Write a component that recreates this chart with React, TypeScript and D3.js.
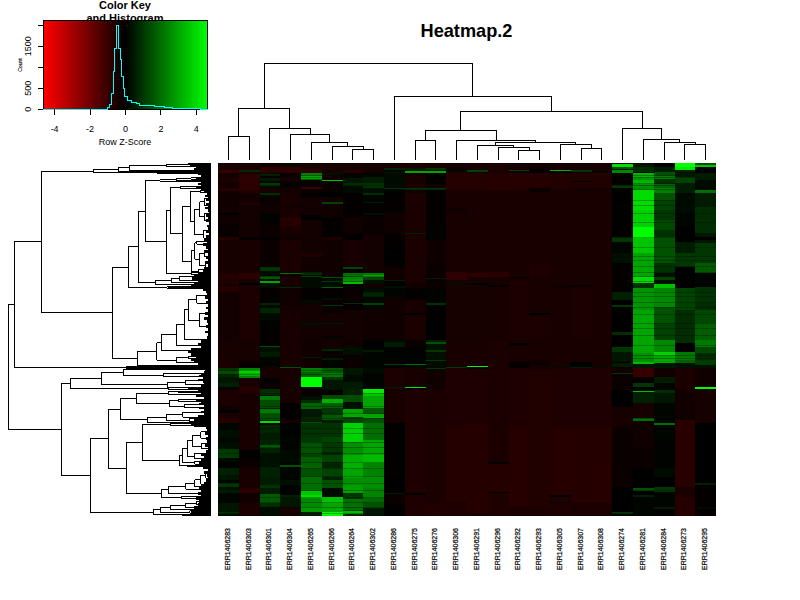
import React from "react";
import * as d3 from "d3";

// ---------- data ----------
const sampleIds = ["ERR1406283","ERR1406303","ERR1406301","ERR1406304","ERR1406265","ERR1406266","ERR1406264","ERR1406302","ERR1406286","ERR1406275","ERR1406276","ERR1406306","ERR1406291","ERR1406296","ERR1406292","ERR1406293","ERR1406305","ERR1406307","ERR1406308","ERR1406274","ERR1406281","ERR1406284","ERR1406273","ERR1406295"];

// Row-position units run from 9 (top row) to 1068 (bottom row). Each band: [first row position, z-score]
const col00 = [[9,-.45],[30,-1],[38,-.3],[52,-.5],[66,-.35],[85,-.7],[92,-.3],[160,0],[165,-.3],[192,-.15],[230,-.7],[240,-.4],[340,-.6],[372,-.4],[378,-.7],[395,-.35],[540,-.4],[600,-.5],[624,1],[634,1.4],[642,.7],[650,.4],[668,.6],[680,-.2],[690,-.5],[735,-.3],[750,0],[760,-.5],[775,-.7],[790,.1],[810,.3],[830,.15],[850,.3],[867,1.05],[895,.2],[905,0],[925,.6],[945,.4],[960,.1],[970,1],[980,.3],[990,.5],[1000,.1],[1030,.4],[1055,.8],[1060,.2]];
const col01 = [[9,-.5],[30,.8],[36,-.5],[42,-.8],[90,-.6],[100,-.35],[130,-.6],[135,-.35],[230,-.1],[240,-.45],[340,-.8],[356,-.4],[370,0],[375,-.5],[540,-.4],[600,-.3],[610,-.1],[624,2.4],[630,3.8],[640,3.2],[648,2.4],[655,-.5],[680,-.7],[700,-.45],[870,-.05],[900,-.2],[920,-.45],[985,-.8],[1000,-.3],[1030,-.5]];
const col02 = [[9,-.3],[22,-.8],[38,-.3],[42,.7],[47,-.1],[55,.5],[62,.1],[70,1],[76,.2],[84,-.4],[100,.8],[106,.2],[112,-.2],[135,-.3],[160,.05],[185,-.2],[230,0],[240,-.2],[320,1],[333,.2],[347,1.6],[356,.2],[364,3],[370,.3],[385,-.1],[430,.7],[436,.2],[445,.7],[460,.2],[480,.05],[500,-.1],[540,-.1],[558,1.5],[562,.3],[575,.5],[590,.1],[620,-.4],[655,.05],[670,-.2],[688,.8],[705,.2],[708,2.2],[720,1.4],[745,.5],[748,2.2],[762,1.4],[780,.6],[783,4],[789,.1],[795,.7],[820,.5],[840,.6],[855,1.6],[865,.6],[880,.3],[920,.6],[950,.5],[975,.9],[985,.5],[1002,1.6],[1030,.8],[1040,.2]];
const col03 = [[9,.2],[15,-.4],[20,-.8],[38,-.2],[50,-.35],[65,.05],[80,-.35],[100,-.45],[138,-.2],[142,-.45],[170,-.7],[200,-.45],[225,-.3],[240,-.5],[338,2],[342,-.3],[350,-.45],[380,.8],[384,-.3],[440,-.45],[540,-.45],[620,1.5],[624,-.45],[730,-.1],[780,-.45],[790,.05],[830,.1],[870,.2],[910,.05],[915,1.5],[922,.1],[960,.3],[975,.05],[1005,.6],[1010,.4],[1040,-.45]];
const col04 = [[9,-.4],[28,-.8],[39,2.3],[48,3],[56,1.6],[60,-.2],[82,-1],[88,-.2],[100,0],[110,-.35],[165,0],[180,-.35],[280,-.6],[290,-.3],[335,.8],[345,.3],[347,1.5],[351,.2],[385,-.1],[420,.2],[430,-.35],[488,.3],[495,-.35],[540,-.3],[590,.5],[595,-.3],[624,2.3],[635,1.8],[652,4.6],[682,.1],[690,-.2],[708,.3],[720,.8],[730,1.8],[748,.4],[770,.6],[785,1.5],[790,.9],[830,1],[845,1.5],[880,1.2],[890,1.7],[910,1.8],[925,1.5],[950,2],[992,3.6],[1005,4],[1015,2.5],[1040,2.8],[1055,.5]];
const col05 = [[9,-.4],[40,.3],[46,-.3],[60,3.5],[64,-.2],[95,0],[110,-.35],[125,1.2],[131,-.3],[170,-.1],[230,-.5],[240,-.3],[350,1.5],[354,.3],[363,1],[367,.2],[380,1.8],[384,-.1],[415,.3],[420,-.2],[435,1],[438,-.2],[460,-.35],[488,.4],[492,-.35],[528,.1],[534,-.35],[540,-.35],[568,.7],[572,-.2],[595,.5],[600,.1],[624,1.6],[640,2.2],[650,1],[660,.4],[690,-.2],[705,1.3],[718,3.2],[730,1.7],[745,1],[765,1.6],[780,.5],[790,.9],[830,1.2],[850,1],[875,.7],[885,1.2],[905,.7],[925,1.2],[950,.6],[960,1.5],[985,.2],[1012,3.5],[1030,3],[1055,4.5]];
const col06 = [[9,-.4],[30,-.7],[38,-.2],[42,.1],[55,.4],[70,.8],[76,.2],[100,-.1],[170,-.3],[220,-.1],[240,-.45],[320,1.2],[328,-.1],[340,2],[352,2.4],[358,2.6],[366,3.4],[372,.1],[385,-.2],[428,.8],[432,-.1],[450,-.35],[540,-.3],[560,.3],[585,-.2],[624,.4],[645,.2],[665,.5],[688,.6],[705,1.4],[725,.3],[747,3],[770,1.2],[790,3.8],[845,2.6],[885,3.2],[925,3],[955,2.6],[975,2.9],[1000,1],[1018,2],[1050,1.2],[1053,3.4],[1060,.8]];
const col07 = [[9,-.4],[38,.1],[50,.5],[70,.9],[85,.3],[100,.8],[105,.1],[125,.5],[130,-.1],[158,.3],[165,-.2],[225,-.35],[340,2.2],[346,3],[352,1.2],[360,.3],[372,-.3],[385,.2],[395,.7],[410,.1],[430,1.2],[434,.1],[450,-.3],[540,0],[570,.5],[575,.1],[624,.2],[640,.1],[688,4.3],[700,3.6],[708,3],[745,1.6],[762,3],[775,1.5],[790,2],[840,3],[885,3.4],[910,2.4],[950,2.6],[985,2.4],[1012,1.9],[1030,1.5],[1045,.4]];
const col08 = [[9,-.4],[24,.7],[29,-.1],[36,.4],[40,.2],[85,1],[88,.1],[100,-.1],[150,.05],[160,-.3],[220,-.1],[270,0],[300,-.05],[320,-.3],[360,.6],[364,-.1],[378,.3],[385,.1],[410,-.3],[540,.2],[545,.5],[560,.05],[612,1],[616,.05],[624,-.5],[680,.4],[684,-.45],[790,-.05],[950,0],[1000,.5],[1003,-.2],[1035,-.05]];
const col09 = [[9,-.5],[24,.5],[34,3],[38,-.3],[45,-.45],[85,1],[89,-.3],[100,-.5],[218,.6],[222,-.5],[370,-.3],[385,-.1],[420,-.45],[460,-.1],[466,-.5],[540,-.2],[565,.05],[612,2],[616,.1],[624,-.45],[680,4],[684,-.2],[690,-.55],[1000,-.1],[1005,-.55]];
const col10 = [[9,-.45],[24,1],[30,.3],[32,3],[39,.1],[50,-.1],[66,.05],[72,-.3],[85,1],[89,.05],[100,-.1],[190,.05],[240,-.25],[310,-.2],[354,.5],[357,-.2],[385,.05],[430,.9],[435,0],[540,.5],[546,1.5],[552,.3],[570,1],[575,.3],[600,1],[604,.2],[624,1],[628,-.3],[690,-.5],[1030,-.6]];
const col11 = [[9,-.4],[25,.1],[32,-.45],[40,-.65],[90,-.45],[145,-.3],[160,-.45],[335,-.8],[360,-.45],[370,.2],[376,-.4],[540,-.45],[620,1],[624,-.55],[800,-.65],[1025,-.4],[1030,-.55]];
const col12 = [[9,-.45],[30,1.2],[36,-.3],[40,-.65],[90,-.45],[340,-.8],[350,-.4],[370,.1],[376,-.4],[540,-.45],[618,4.5],[622,-.2],[628,-.55],[790,-.65],[1060,-.4]];
const col13 = [[9,-.5],[42,-.7],[92,-.45],[335,-.75],[352,-.4],[375,-.1],[380,-.45],[540,-.5],[905,0],[913,-.65],[995,0],[1000,-.55]];
const col14 = [[9,-.4],[30,1.2],[34,-.3],[40,-.7],[90,-.45],[350,-.2],[356,-.5],[540,-.45],[550,0],[555,-.45],[605,-.1],[624,-.55],[800,-.7],[1040,-.5]];
const col15 = [[9,-.3],[27,-.1],[38,-.45],[40,-.65],[85,-.2],[95,-.45],[310,-.55],[350,-.45],[460,0],[465,-.5],[540,-.45],[600,-.3],[612,.05],[616,-.4],[630,-.6],[1040,-.5]];
const col16 = [[9,-.4],[30,3.2],[34,-.1],[40,-.6],[88,-.45],[378,.1],[382,-.45],[540,-.45],[620,.3],[624,-.55],[800,-.7],[1005,-.1],[1012,-.55],[1027,.2],[1030,-.55]];
const col17 = [[9,-.4],[30,1],[36,-.3],[40,-.6],[64,0],[67,-.6],[85,-.45],[375,-.2],[380,-.5],[540,-.45],[605,0],[620,.6],[624,-.55],[800,-.65],[1030,-.5]];
const col18 = [[9,-.45],[33,.2],[37,-.3],[40,-.6],[85,-.45],[540,-.45],[620,.3],[624,-.55],[800,-.65],[910,-.7],[1030,-.5]];
const col19 = [[9,.2],[13,4],[22,1.5],[28,.2],[30,2.5],[38,-.1],[75,1],[85,0],[130,-.05],[232,1],[245,.1],[280,.3],[310,-.1],[395,.6],[420,0],[435,1],[440,0],[515,.8],[525,0],[562,1],[575,.4],[605,0],[610,.5],[620,-.3],[638,1],[642,-.2],[690,0],[740,-.4],[800,-.2],[980,0],[1055,1],[1060,0]];
const col20 = [[9,.4],[20,.8],[35,0],[40,3.3],[52,2.7],[60,3.3],[72,2.6],[90,4],[150,3.8],[200,4.6],[235,3.6],[280,3],[350,4],[370,.9],[385,2.7],[450,3],[540,3],[580,2.6],[605,3.4],[612,.4],[624,-1],[650,-.1],[668,1],[680,0],[692,3.5],[696,.6],[730,-.4],[774,2],[784,-.3],[860,-.2],[925,0],[985,1.5],[993,0],[1005,.6],[1012,.1]];
const col21 = [[9,0],[22,.5],[36,1.5],[48,2.2],[56,.9],[70,1.8],[85,2.3],[100,1.5],[120,1.2],[150,1],[180,1.3],[210,.9],[230,1.5],[310,.9],[340,.3],[350,1.2],[360,.3],[372,3.5],[385,2.5],[440,1.5],[490,1.2],[540,2.5],[575,3.8],[585,3],[610,.4],[624,-.3],[650,.5],[668,.1],[690,.8],[700,.4],[730,.1],[790,2],[795,.1],[840,.05],[925,.2],[950,0],[980,1],[995,.1],[1040,.5],[1046,.05]];
const col22 = [[9,4.6],[22,4.2],[30,.6],[35,.4],[52,1.2],[68,.5],[100,.2],[160,.1],[200,0],[245,.5],[280,1],[320,0],[385,1.2],[450,.8],[540,.8],[550,0],[565,-.1],[575,2.2],[600,1.8],[608,.3],[624,-.5],[690,-.3],[780,-.75],[980,-.5],[1010,-.7]];
const col23 = [[9,1.5],[14,3.5],[22,0],[38,.5],[60,.2],[90,2],[100,.5],[140,.8],[220,.4],[232,-.1],[240,.4],[250,1],[310,1.6],[340,.1],[375,-.1],[380,.9],[430,.8],[450,1.3],[490,1.7],[540,2.2],[560,1.3],[580,.8],[600,1.1],[615,.3],[624,-.3],[680,-.1],[682,4.6],[686,-.2],[690,-.4],[790,0],[970,.6],[975,-.1],[1040,.2],[1046,-.1]];
const heatColumns = [col00,col01,col02,col03,col04,col05,col06,col07,col08,col09,col10,col11,col12,col13,col14,col15,col16,col17,col18,col19,col20,col21,col22,col23];

// Rows that read as darker streaks across the green blocks
const dimRows = [45,52,68,75,88,120,135,160,185,232,260,288,300,318,335,348,362,395,408,425,440,462,490,505,525,555,585,595,630,642,700,738,760,775,805,820,845,862,880,905,925,948,970,990,1010,1025,1040,1058];
const dimFactor = 0.72;

// Sample dendrogram: a number is a leaf (column index), [height, a, b] a merge
const colTree: any = [289,
  [154,[70,0,1],[94,2,[76,3,[52,4,[40,5,[31,6,7]]]]]],
  [190,8,[145,
    [88,[58,9,10],[58,11,[52,[43,12,[37,13,[28,14,15]]],[46,16,[34,17,18]]]]],
    [94,19,[61,20,[52,21,[46,22,23]]]]]]];

// Gene dendrogram: a number is a leaf (row position), [height, a, b] a merge
const rowTree: any = [608,
  [590,
    [509,
      [353,[278,[245,[133,13,20],30],35],[161,36,41]],
      [296,
        [248,
          [218,
            [197,
              [153,[103,[60,53,57],62],64],
              [134,
                [122,
                  [92,80,85],
                  [86,
                    [62,
                      [30,[15,86,92],98],
                      [50,[33,[20,115,135],[20,160,180]],[22,210,234]]],
                    [59,
                      [49,[43,244,252],[35,[20,270,290],[15,305,325]]],
                      [38,328,340]]]],
                [58,336,344]]],
            [167,[118,[95,350,360],368],373]],
          [133,380,384]],
        [221,
          [163,
            [149,[104,[80,[68,[42,405,430],[35,460,500]],537],555],572],
            [103,[68,588,596],608]],
          [33,612,618]]]],
    [433,621,[255,622,625]]],
  [449,
    [422,
      [329,
        [263,[253,627,629],[141,640,650]],
        [131,[77,662,673],682]],
      [128,683,687]],
    [362,
      [308,
        [272,
          [224,
            [128,[98,693,698],703],
            [125,[98,718,725],[78,733,743]]],
          [191,
            [134,[85,757,772],[63,775,785]],
            787]],
        [254,
          [206,
            [122,790,797],
            [95,
              [86,
                [71,[56,[30,815,835],[28,850,866]],[48,880,896]],
                [48,903,913]],
              [71,915,919]]],
          [149,
            [128,
              [75,[49,[30,[15,935,955],973],980],988],
              [33,996,1004]],
            [88,1008,1016]]]],
      [173,
        [152,
          [122,[75,[43,1024,1034],1043],1047],
          [63,1052,1060]],
        [88,1062,1066]]]]];

// Right-hand black mass of the gene dendrogram: [first row position, height of the leaf edge]
const fringeRuns = [[9,68],[14,62],[20,45],[24,52],[30,60],[36,80],[40,40],[46,30],[52,45],[58,35],[62,30],[68,38],[74,30],[80,45],[86,30],[92,20],[100,12],[106,18],[112,8],[118,16],[124,6],[130,14],[136,8],[142,18],[148,10],[156,6],[162,16],[170,8],[178,14],[186,6],[194,12],[202,8],[210,16],[218,6],[226,14],[234,20],[242,12],[250,24],[258,14],[266,10],[272,20],[280,8],[288,16],[296,10],[304,18],[312,8],[320,20],[328,25],[336,40],[344,50],[352,58],[360,38],[366,50],[372,60],[377,90],[381,130],[385,25],[392,15],[400,12],[408,18],[416,8],[424,15],[432,10],[440,14],[448,8],[456,18],[464,10],[472,20],[480,12],[488,8],[496,14],[504,10],[512,18],[520,8],[528,12],[540,30],[548,40],[556,30],[565,60],[572,70],[580,60],[590,45],[596,60],[602,50],[608,40],[614,35],[618,255],[626,18],[632,20],[638,30],[644,35],[650,25],[656,40],[662,25],[668,20],[675,30],[680,60],[684,70],[688,40],[694,35],[700,30],[706,45],[712,20],[718,45],[724,30],[730,35],[736,22],[742,35],[748,22],[754,30],[760,22],[766,40],[772,30],[778,50],[784,60],[794,50],[800,15],[808,12],[816,18],[824,10],[832,16],[840,12],[850,18],[860,10],[870,16],[880,30],[888,20],[896,30],[904,35],[918,25],[926,10],[934,20],[942,12],[950,8],[958,16],[966,20],[972,30],[980,35],[988,30],[996,40],[1004,30],[1012,45],[1020,35],[1030,40],[1038,50],[1046,55],[1054,60],[1062,50]];

// Histogram of the colour key
const histEdges = [-4.64,-.99,-.91,-.80,-.69,-.63,-.52,-.40,-.29,-.23,-.11,-.05,.11,.34,.49,.62,.77,1.63,2.2,2.67,4.24,4.64];
const histCounts = [0,32,120,380,905,1450,1985,1450,1190,780,500,300,200,160,165,145,95,70,40,25,5];
const keyXTicks = [-4,-2,0,2,4];
const keyYTicks = [0,500,1000,1500,2000];
const keyYLabels = [0,500,1500];

// ---------- helpers ----------
const FONT = "'Liberation Sans', Arial, sans-serif";
const zColor = d3.scaleLinear<string>().domain([-4.64,0,4.64]).range(["#ff0000","#000000","#00ff00"]).clamp(true);

function layoutTree(node: any, pos: (n: number) => number, out: number[][]): [number, number] {
  if (typeof node === "number") return [pos(node), 0];
  const [h, a, b] = node;
  const [pa, ha] = layoutTree(a, pos, out);
  const [pb, hb] = layoutTree(b, pos, out);
  out.push([pa, ha, pa, h], [pa, h, pb, h], [pb, h, pb, hb]);
  return [(pa + pb) / 2, h];
}

function bandValueAt(bands: number[][], r: number): number {
  let v = bands[0][1];
  for (const [start, z] of bands) { if (start <= r) v = z; else break; }
  return v;
}

export default function App() {
  const xBand = d3.scaleBand<number>().domain(d3.range(sampleIds.length)).range([218, 716]);
  const y = d3.scaleLinear().domain([9, 1068]).range([163, 516]);
  const colH = d3.scaleLinear().domain([0, 289]).range([159.7, 63.3]);
  const rowH = d3.scaleLinear().domain([0, 608]).range([211, 8.3]);
  const keyX = d3.scaleLinear().domain([-4.64, 4.64]).range([43.3, 207.7]);
  const keyY = d3.scaleLinear().domain([0, 500]).range([109.3, 88.3]);

  const colCentre = (i: number) => (xBand(i) as number) + xBand.bandwidth() / 2;
  const colSegs: number[][] = [];
  layoutTree(colTree, colCentre, colSegs);
  const rowSegs: number[][] = [];
  layoutTree(rowTree, (r) => r, rowSegs);

  const colPath = d3.path();
  colSegs.forEach(([p1, h1, p2, h2]) => { colPath.moveTo(p1, colH(h1)); colPath.lineTo(p2, colH(h2)); });
  const rowPath = d3.path();
  rowSegs.forEach(([p1, h1, p2, h2]) => { rowPath.moveTo(rowH(h1), y(p1)); rowPath.lineTo(rowH(h2), y(p2)); });

  const histLine = d3.line<number>()
    .x((_, i) => keyX(histEdges[i]))
    .y((d) => keyY(d))
    .curve(d3.curveStepAfter)(histCounts.concat([0]));

  const keyStops = d3.range(0, 81);

  return (
    <svg width={800} height={600} style={{ position: "absolute", left: 0, top: 0, background: "#fff" }} fontFamily={FONT}>
      {/* colour key title sits under the key image, as in the original */}
      <text x={125} y={9} textAnchor="middle" fontWeight="bold" fontSize={11}>Color Key</text>
      <text x={125} y={22} textAnchor="middle" fontWeight="bold" fontSize={11}>and Histogram</text>
      <text x={466.5} y={37} textAnchor="middle" fontWeight="bold" fontSize={18.2}>Heatmap.2</text>

      {keyStops.map((s) => {
        const z0 = -4.64 + (s * 9.28) / 81;
        const z1 = -4.64 + ((s + 1) * 9.28) / 81;
        return <rect key={s} x={keyX(z0)} y={20.7} width={keyX(z1) - keyX(z0) + .6} height={88.6} fill={zColor((z0 + z1) / 2)} shapeRendering="crispEdges" />;
      })}
      <rect x={43.3} y={20.7} width={164.4} height={88.6} fill="none" stroke="#000" strokeWidth={1} shapeRendering="crispEdges" />
      <path d={histLine as string} fill="none" stroke="#00ffff" strokeWidth={1} shapeRendering="crispEdges" />
      <g stroke="#000" shapeRendering="crispEdges">
        {keyXTicks.map((t) => <line key={t} x1={keyX(t)} x2={keyX(t)} y1={109.3} y2={114.5} />)}
        {keyYTicks.map((t) => <line key={t} x1={38} x2={43.3} y1={keyY(t)} y2={keyY(t)} />)}
      </g>
      {keyXTicks.map((t) => <text key={t} x={keyX(t)} y={132} textAnchor="middle" fontSize={9}>{t < 0 ? `-${-t}` : t}</text>)}
      {keyYLabels.map((t) => <text key={t} transform={`translate(31,${keyY(t)}) rotate(-90)`} textAnchor="middle" fontSize={9}>{t}</text>)}
      <text transform="translate(22,65) rotate(-90)" textAnchor="middle" fontSize={5} stroke="#000" strokeWidth={.15}>Count</text>
      <text x={125} y={145} textAnchor="middle" fontSize={9}>Row Z-Score</text>

      <path d={colPath.toString()} fill="none" stroke="#000" strokeWidth={1} shapeRendering="crispEdges" />

      <path d={rowPath.toString()} fill="none" stroke="#000" strokeWidth={1} shapeRendering="crispEdges" />
      {fringeRuns.map(([r, h], i) => {
        const next = i + 1 < fringeRuns.length ? fringeRuns[i + 1][0] : 1068;
        return <rect key={i} x={rowH(h)} y={y(r)} width={rowH(0) - rowH(h)} height={y(next) - y(r)} fill="#000" shapeRendering="crispEdges" />;
      })}

      {heatColumns.map((bands, c) => (
        <g key={c}>
          {bands.map(([r, z], i) => {
            const next = i + 1 < bands.length ? bands[i + 1][0] : 1068;
            return <rect key={i} x={xBand(c)} y={y(r)} width={xBand.bandwidth()} height={y(next) - y(r)} fill={zColor(z)} shapeRendering="crispEdges" />;
          })}
          {dimRows.map((r) => {
            const z = bandValueAt(bands, r);
            return z > 0.6 ? <rect key={r} x={xBand(c)} y={y(r)} width={xBand.bandwidth()} height={1} fill={zColor(z * dimFactor)} shapeRendering="crispEdges" /> : null;
          })}
        </g>
      ))}

      {sampleIds.map((id, i) => (
        <text key={id} transform={`translate(${colCentre(i) + 1.5},528) rotate(-90)`} textAnchor="end" fontSize={7} stroke="#000" strokeWidth={.2}>{id}</text>
      ))}
    </svg>
  );
}
